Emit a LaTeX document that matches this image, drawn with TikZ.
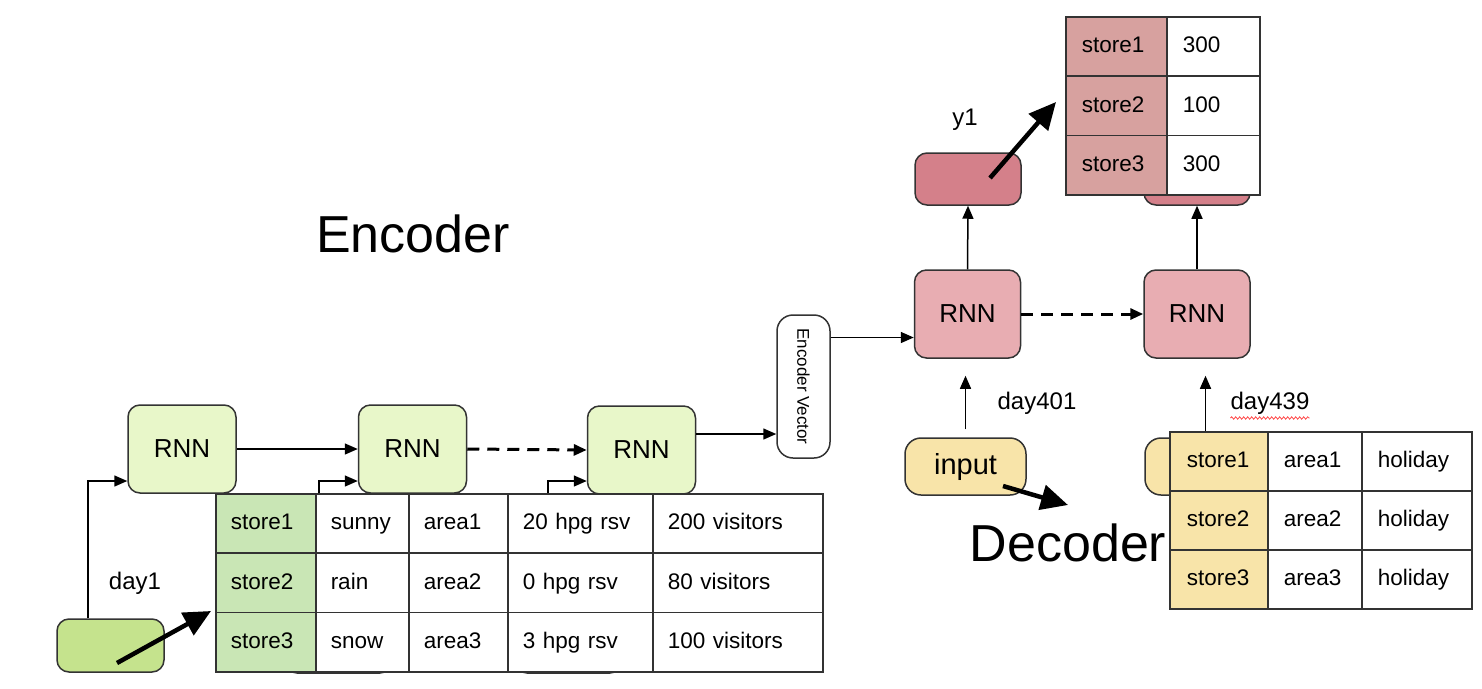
\documentclass[tikz,border=0pt]{standalone}
\usepackage{fontspec}
\setmainfont{Liberation Sans}
\usetikzlibrary{arrows.meta,decorations.pathmorphing}
\definecolor{gE}{HTML}{E8F7C9}
\definecolor{gIn}{HTML}{C5E38D}
\definecolor{gTab}{HTML}{C9E6B5}
\definecolor{pR}{HTML}{E8ADB2}
\definecolor{pOut}{HTML}{D4808A}
\definecolor{pTab}{HTML}{D7A19F}
\definecolor{yIn}{HTML}{F8E4A9}
\definecolor{edgec}{HTML}{333333}
\begin{document}
\begin{tikzpicture}[x=1pt,y=-1pt,
  box/.style={draw=edgec, line width=1.5pt, rounded corners=12pt, inner sep=0pt},
  rnnE/.style={box, fill=gE, minimum width=108pt, minimum height=88pt, font=\fontsize{26}{30}\selectfont},
  rnnD/.style={box, fill=pR, minimum width=106pt, minimum height=88pt, font=\fontsize{26}{30}\selectfont},
  inE/.style={box, fill=gIn, minimum width=107pt, minimum height=53pt},
  outD/.style={box, fill=pOut, minimum width=106pt, minimum height=52pt},
  inD/.style={box, rounded corners=16pt, fill=yIn, minimum width=121pt, minimum height=57pt, font=\fontsize{29}{34}\selectfont},
  cell/.style={draw=edgec, fill=white, line width=1.5pt, anchor=north west, inner xsep=15pt, inner ysep=0pt,
     align=left, text height=16pt, text depth=3pt, font=\fontsize{22.5}{27}\selectfont},
  lab/.style={font=\fontsize{24}{28}\selectfont, inner sep=0pt},
  big/.style={font=\fontsize{52}{60}\selectfont, inner sep=0pt},
  arr/.style={-{Triangle[length=13pt,width=11pt]}, line width=1.5pt},
  darr/.style={-{Triangle[length=13pt,width=11pt]}, line width=3pt, dash pattern=on 12pt off 8pt},
  bigarr/.style={-{Triangle[length=27pt,width=25pt]}, line width=4.5pt},
]
\useasboundingbox (0,0) rectangle (1482,688);

% ---------- Encoder ----------
\node[big] (enc) at (413,234) {Encoder};

\node[inE] (in1) at (110.5,645.5) {};
\node[inE] (in2) at (338.5,646.5) {};
\node[inE] (in3) at (568.5,646.5) {};

\node[rnnE] (e1) at (182,449) {RNN};
\node[rnnE] (e2) at (412.5,449) {RNN};
\node[rnnE] (e3) at (641.5,450) {RNN};

\node[box, rounded corners=16pt, fill=white, minimum width=53pt, minimum height=143pt] (ev) at (803.5,386.5) {};
\node[rotate=-90, font=\fontsize{17}{20}\selectfont, inner sep=0pt] (evt) at (ev.center) {Encoder Vector};

\draw[arr] ([xshift=-22.5pt]in1.north) |- ([yshift=-32pt]e1.west);
\draw[arr] ([xshift=-19.5pt]in2.north) |- ([yshift=-32pt]e2.west);
\draw[arr] ([xshift=-20.5pt]in3.north) |- ([yshift=-31pt]e3.west);

\draw[arr] (e1.east) -- (e2.west);
\draw[darr] (e2.east) -- (e3.west);
\coordinate (e3out) at ([yshift=16pt]e3.east);
\draw[arr] (e3out) -- (e3out -| ev.west);

\node[lab] (lday1) at (135,583) {day1};

% encoder table
\node[cell, fill=gTab, text width=70pt, minimum height=59.4pt] (t11) at (215,493) {store1};
\node[cell, text width=63pt, minimum height=59.4pt] (t12) at (315,493) {sunny};
\node[cell, text width=69pt, minimum height=59.4pt] (t13) at (408,493) {area1};
\node[cell, text width=115pt, minimum height=59.4pt] (t14) at (507,493) {20 hpg rsv};
\node[cell, text width=140pt, minimum height=59.4pt] (t15) at (652,493) {200 visitors};
\node[cell, fill=gTab, text width=70pt, minimum height=59.4pt] (t21) at (215,552.4) {store2};
\node[cell, text width=63pt, minimum height=59.4pt] (t22) at (315,552.4) {rain};
\node[cell, text width=69pt, minimum height=59.4pt] (t23) at (408,552.4) {area2};
\node[cell, text width=115pt, minimum height=59.4pt] (t24) at (507,552.4) {0 hpg rsv};
\node[cell, text width=140pt, minimum height=59.4pt] (t25) at (652,552.4) {80 visitors};
\node[cell, fill=gTab, text width=70pt, minimum height=59.4pt] (t31) at (215,611.8) {store3};
\node[cell, text width=63pt, minimum height=59.4pt] (t32) at (315,611.8) {snow};
\node[cell, text width=69pt, minimum height=59.4pt] (t33) at (408,611.8) {area3};
\node[cell, text width=115pt, minimum height=59.4pt] (t34) at (507,611.8) {3 hpg rsv};
\node[cell, text width=140pt, minimum height=59.4pt] (t35) at (652,611.8) {100 visitors};

\coordinate (a1end) at (211,611);
\draw[bigarr] ([shift={(6.5pt,-17.5pt)}]in1.center) -- (a1end);

% ---------- Decoder ----------
\node[rnnD] (d1) at (967.5,314) {RNN};
\node[rnnD] (d2) at (1197,314) {RNN};
\node[outD] (o1) at (968,179) {};
\node[outD] (o2) at (1197,179) {};
\node[inD] (din1) at (965.5,466.5) {input};
\node[inD] (din2) at (1205.5,466.5) {};

\coordinate (evout) at ([yshift=49pt]ev.east);
\draw[arr] (evout) -- (evout -| d1.west);
\draw[darr] (d1.east) -- (d2.west);
\draw[arr] (d1.north) -- (o1.south);
\draw[arr] (d2.north) -- (o2.south);
\draw[arr, shorten <=8pt, shorten >=17pt] (din1.north) -- (din1.north |- d1.south);
\draw[arr, shorten >=17pt] (din2.north) -- (din2.north |- d2.south);

\node[lab] (ly1) at (965,120) {y1};
\node[lab] (lday401) at (1037,403) {day401};
\node[lab] (lday439) at (1270,403) {day439};
\draw[red!70!white, line width=0.8pt, decorate, decoration={snake, amplitude=1.2pt, segment length=4pt}]
  ([yshift=-15pt]lday439.west) -- ([yshift=-15pt]lday439.east);

\node[big] (dec) at (1068,543) {Decoder};

% output table
\node[cell, fill=pTab, inner xsep=16pt, text width=69pt, minimum height=59.4pt] (u11) at (1065,16) {store1};
\node[cell, inner xsep=16pt, text width=61pt, minimum height=59.4pt] (u12) at (1166,16) {300};
\node[cell, fill=pTab, inner xsep=16pt, text width=69pt, minimum height=59.4pt] (u21) at (1065,75.4) {store2};
\node[cell, inner xsep=16pt, text width=61pt, minimum height=59.4pt] (u22) at (1166,75.4) {100};
\node[cell, fill=pTab, inner xsep=16pt, text width=69pt, minimum height=59.4pt] (u31) at (1065,134.8) {store3};
\node[cell, inner xsep=16pt, text width=61pt, minimum height=59.4pt] (u32) at (1166,134.8) {300};

% decoder input table
\node[cell, fill=yIn, inner xsep=17pt, text width=64pt, minimum height=59pt] (v11) at (1169,431) {store1};
\node[cell, inner xsep=16pt, text width=62pt, minimum height=59pt] (v12) at (1267,431) {area1};
\node[cell, inner xsep=16pt, text width=78pt, minimum height=59pt] (v13) at (1361,431) {holiday};
\node[cell, fill=yIn, inner xsep=17pt, text width=64pt, minimum height=59pt] (v21) at (1169,490) {store2};
\node[cell, inner xsep=16pt, text width=62pt, minimum height=59pt] (v22) at (1267,490) {area2};
\node[cell, inner xsep=16pt, text width=78pt, minimum height=59pt] (v23) at (1361,490) {holiday};
\node[cell, fill=yIn, inner xsep=17pt, text width=64pt, minimum height=59pt] (v31) at (1169,549) {store3};
\node[cell, inner xsep=16pt, text width=62pt, minimum height=59pt] (v32) at (1267,549) {area3};
\node[cell, inner xsep=16pt, text width=78pt, minimum height=59pt] (v33) at (1361,549) {holiday};

\coordinate (a2end) at (1056,102);
\draw[bigarr] ([shift={(22pt,1pt)}]o1.center) -- (a2end);
\coordinate (a3end) at (1068,505);
\draw[bigarr] ([shift={(37.5pt,-19.5pt)}]din1.center) -- (a3end);
\end{tikzpicture}
\end{document}
